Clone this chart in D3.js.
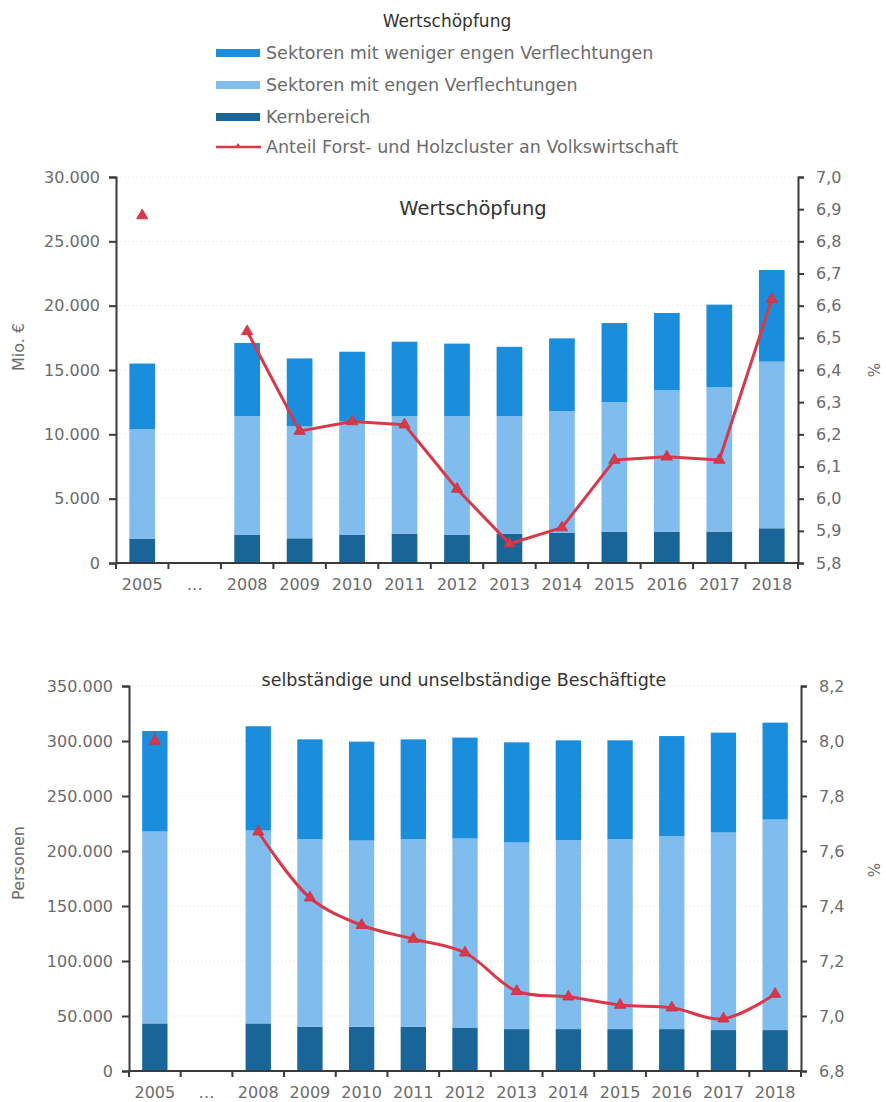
<!DOCTYPE html>
<html>
<head>
<meta charset="utf-8">
<script src="https://cdn.jsdelivr.net/npm/d3@7"></script>
<style>
  html, body { margin: 0; padding: 0; background: #fff; }
  svg { display: block; font-family: "DejaVu Sans", sans-serif; }
</style>
</head>
<body>
<svg id="chart" width="886" height="1102"></svg>
<script>
// Categories (the "…" slot marks the skipped years 2006–2007)
const categories = ["2005", "…", "2008", "2009", "2010", "2011", "2012", "2013", "2014", "2015", "2016", "2017", "2018"];

// Wertschöpfung, Mio. €
const wsKern    = [1900, null, 2180, 1920, 2180, 2280, 2180, 2280, 2330, 2440, 2440, 2440, 2700];
const wsEng     = [8500, null, 9220, 8700, 8820, 9120, 9220, 9120, 9480, 10050, 10980, 11210, 12950];
const wsWeniger = [5100, null, 5700, 5280, 5420, 5800, 5650, 5400, 5650, 6160, 6010, 6430, 7120];
const wsAnteil  = [6.88, null, 6.52, 6.21, 6.24, 6.23, 6.03, 5.86, 5.91, 6.12, 6.13, 6.12, 6.62];

// Beschäftigte, Personen
const bKern    = [43300, null, 43300, 40300, 40300, 40300, 39100, 38100, 38100, 38100, 38100, 37200, 37200];
const bEng     = [174400, null, 175300, 170400, 169200, 170400, 172200, 169600, 171700, 172600, 175300, 179600, 191400];
const bWeniger = [91400, null, 94800, 90800, 89900, 90800, 91800, 91100, 90800, 89900, 91100, 90800, 88100];
const bAnteil  = [8.00, null, 7.67, 7.43, 7.33, 7.28, 7.23, 7.09, 7.07, 7.04, 7.03, 6.99, 7.08];

// Axis ticks
const wsLeftTicks  = [0, 5000, 10000, 15000, 20000, 25000, 30000];
const wsRightTicks = [5.8, 5.9, 6.0, 6.1, 6.2, 6.3, 6.4, 6.5, 6.6, 6.7, 6.8, 6.9, 7.0];
const bLeftTicks   = [0, 50000, 100000, 150000, 200000, 250000, 300000, 350000];
const bRightTicks  = [6.8, 7.0, 7.2, 7.4, 7.6, 7.8, 8.0, 8.2];

// Legend entries
const seriesNames = ["Sektoren mit weniger engen Verflechtungen", "Sektoren mit engen Verflechtungen", "Kernbereich"];
const lineName = "Anteil Forst- und Holzcluster an Volkswirtschaft";

const colors = { weniger: "#1a8edc", eng: "#80bcee", kern: "#196598", line: "#d8394a" };

const de = d3.formatLocale({ decimal: ",", thousands: ".", grouping: [3], currency: ["", " €"] });
const fmtInt = de.format(",.0f");
const fmt1 = de.format(".1f");

const svg = d3.select("#chart");
const textGray = "#6b6b6b";
const axisColor = "#3a3a3a";

// ---------- Legend ----------
svg.append("text").attr("x", 447).attr("y", 27).attr("text-anchor", "middle")
  .attr("font-size", 17).attr("fill", "#333").text("Wertschöpfung");

const legendItems = [
  { name: seriesNames[0], color: colors.weniger, type: "bar" },
  { name: seriesNames[1], color: colors.eng, type: "bar" },
  { name: seriesNames[2], color: colors.kern, type: "bar" },
  { name: lineName, color: colors.line, type: "line" }
];
const legendY = [53, 85, 117, 147];
legendItems.forEach((d, i) => {
  const g = svg.append("g").attr("transform", `translate(216,${legendY[i]})`);
  if (d.type === "bar") {
    g.append("rect").attr("x", 0).attr("y", -4).attr("width", 44).attr("height", 8).attr("fill", d.color);
  } else {
    g.append("line").attr("x1", 0).attr("x2", 45).attr("y1", 0).attr("y2", 0)
      .attr("stroke", d.color).attr("stroke-width", 2.5);
    g.append("path").attr("d", d3.symbol(d3.symbolTriangle, 14)()).attr("transform", "translate(22,-1)")
      .attr("fill", d.color);
  }
  g.append("text").attr("x", 50).attr("y", 6).attr("font-size", 17.5).attr("fill", textGray).text(d.name);
});

// ---------- Panel drawing ----------
function drawPanel(opt) {
  const { x0, x1, yTop, yBot, kern, eng, weniger, anteil, leftDomain, rightDomain,
          leftTicks, rightTicks, title, titleX, titleY, titleSize, leftLabel, leftLabelY, pctY, smooth } = opt;

  const x = d3.scaleBand().domain(categories).range([x0, x1]).paddingInner(0.51).paddingOuter(0.255);
  const y = d3.scaleLinear().domain(leftDomain).range([yBot, yTop]);
  const y2 = d3.scaleLinear().domain(rightDomain).range([yBot, yTop]);

  const g = svg.append("g");

  // faint gridlines
  g.append("g").selectAll("line").data(leftTicks.slice(1)).join("line")
    .attr("x1", x0).attr("x2", x1).attr("y1", d => y(d)).attr("y2", d => y(d))
    .attr("stroke", "#eeeedd").attr("stroke-width", 1).attr("stroke-dasharray", "2,2");

  // stacked bars
  const rows = categories.map((c, i) => ({ cat: c, kern: kern[i], eng: eng[i], weniger: weniger[i] }))
    .filter(d => d.kern != null);
  const stack = d3.stack().keys(["kern", "eng", "weniger"])(rows);
  const fill = { kern: colors.kern, eng: colors.eng, weniger: colors.weniger };
  g.append("g").selectAll("g").data(stack).join("g").attr("fill", s => fill[s.key])
    .selectAll("rect").data(s => s).join("rect")
    .attr("x", d => x(d.data.cat))
    .attr("width", x.bandwidth())
    .attr("y", d => y(d[1]))
    .attr("height", d => y(d[0]) - y(d[1]));

  // left axis
  const la = g.append("g").attr("transform", `translate(${x0},0)`)
    .call(d3.axisLeft(y).tickValues(leftTicks).tickFormat(fmtInt).tickSize(7).tickPadding(9));
  // right axis
  const ra = g.append("g").attr("transform", `translate(${x1},0)`)
    .call(d3.axisRight(y2).tickValues(rightTicks).tickFormat(fmt1).tickSize(6).tickPadding(12));
  // bottom axis with ticks on band boundaries
  const xa = g.append("g").attr("transform", `translate(0,${yBot})`)
    .call(d3.axisBottom(x).tickSize(0).tickPadding(16));
  const step = x.step();
  xa.append("g").selectAll("line").data(d3.range(categories.length + 1)).join("line")
    .attr("x1", i => x0 + i * step).attr("x2", i => x0 + i * step)
    .attr("y1", 0).attr("y2", 6).attr("stroke", axisColor).attr("stroke-width", 2);

  [la, ra, xa].forEach(a => {
    a.select(".domain").attr("stroke", axisColor).attr("stroke-width", 2);
    a.selectAll(".tick line").attr("stroke", axisColor).attr("stroke-width", 2);
    a.selectAll("text").attr("font-size", 16).attr("fill", textGray).attr("font-family", "DejaVu Sans, sans-serif");
  });
  // x domain: plain line without end ticks
  xa.select(".domain").attr("d", `M${x0},0H${x1}`);

  // share line
  const pts = categories.map((c, i) => ({ cat: c, v: anteil[i] }));
  const cx = d => x(d.cat) + x.bandwidth() / 2;
  const line = d3.line().defined((d, i) => d.v != null && i >= 2)
    .x(cx).y(d => y2(d.v))
    .curve(smooth ? d3.curveCatmullRom.alpha(0.5) : d3.curveLinear);
  g.append("path").datum(pts).attr("d", line).attr("fill", "none")
    .attr("stroke", colors.line).attr("stroke-width", 3).attr("stroke-linejoin", "round");
  g.append("g").selectAll("path").data(pts.filter(d => d.v != null)).join("path")
    .attr("d", d3.symbol(d3.symbolTriangle, 55)())
    .attr("transform", d => `translate(${cx(d)},${y2(d.v)})`)
    .attr("fill", colors.line).attr("stroke", "#c8303f").attr("stroke-width", 0.8);

  // titles and axis labels
  svg.append("text").attr("x", titleX).attr("y", titleY).attr("text-anchor", "middle")
    .attr("font-size", titleSize).attr("fill", "#333").text(title);
  svg.append("text").attr("transform", `translate(24,${leftLabelY}) rotate(-90)`)
    .attr("text-anchor", "middle").attr("font-size", 16).attr("fill", textGray).text(leftLabel);
  svg.append("text").attr("transform", `translate(868,${pctY}) rotate(90)`)
    .attr("text-anchor", "middle").attr("font-size", 15).attr("fill", textGray).text("%");
}

drawPanel({
  x0: 116, x1: 798, yTop: 177, yBot: 563,
  kern: wsKern, eng: wsEng, weniger: wsWeniger, anteil: wsAnteil,
  leftDomain: [0, 30000], rightDomain: [5.8, 7.0],
  leftTicks: wsLeftTicks, rightTicks: wsRightTicks,
  title: "Wertschöpfung", titleX: 473, titleY: 215, titleSize: 19.5,
  leftLabel: "Mio. €", leftLabelY: 347, pctY: 370, smooth: false
});

drawPanel({
  x0: 129, x1: 801, yTop: 686, yBot: 1071,
  kern: bKern, eng: bEng, weniger: bWeniger, anteil: bAnteil,
  leftDomain: [0, 350000], rightDomain: [6.8, 8.2],
  leftTicks: bLeftTicks, rightTicks: bRightTicks,
  title: "selbständige und unselbständige Beschäftigte", titleX: 464, titleY: 686, titleSize: 17.5,
  leftLabel: "Personen", leftLabelY: 863, pctY: 870, smooth: true
});
</script>
</body>
</html>
